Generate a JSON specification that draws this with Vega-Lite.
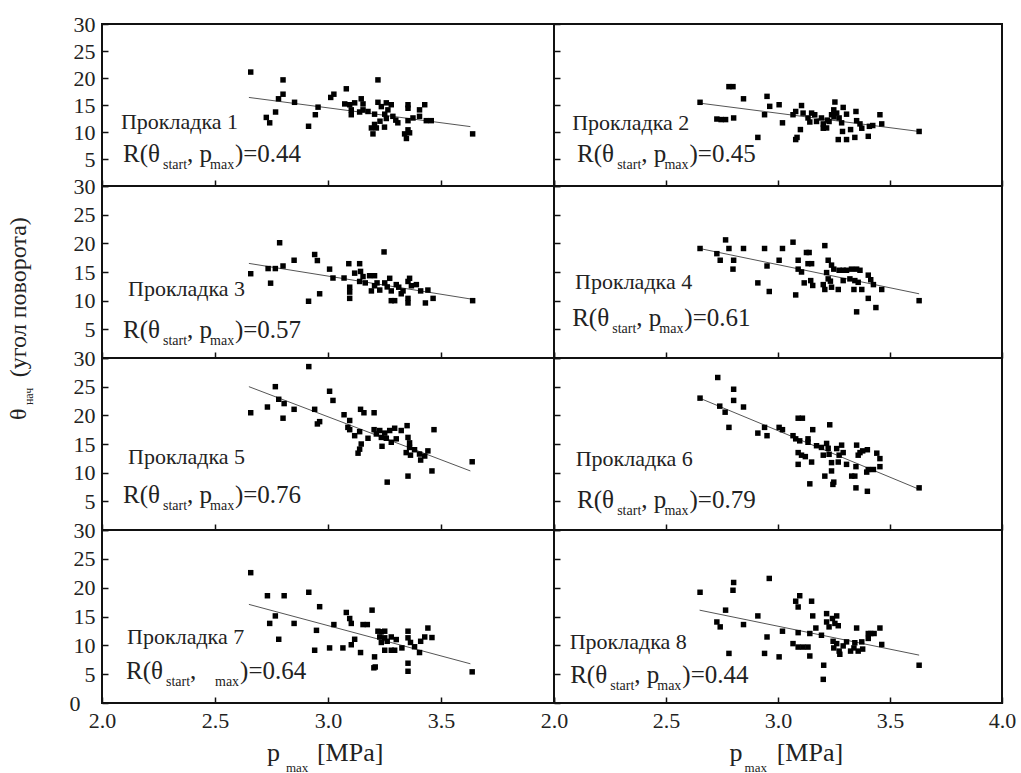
{
"$schema": "https://vega.github.io/schema/vega-lite/v6.json",
"padding": {"left": 6, "top": 12, "right": 5, "bottom": 0},
"background": "white",
"config": {
  "font": "Liberation Serif",
  "view": {"stroke": "#111", "strokeWidth": 2},
  "axis": {"domain": false, "grid": false, "ticks": true, "tickSize": -6, "tickColor": "#111", "tickWidth": 1.5, "labelFont": "Liberation Serif", "labelFontSize": 22, "labelColor": "#222", "labelFlush": false, "labelOverlap": false, "labelPadding": 13}
},
"datasets": {
  "lines": [
    {"panel":1,"x":2.65,"y":16.4},{"panel":1,"x":3.63,"y":11.0},
    {"panel":2,"x":2.65,"y":15.35},{"panel":2,"x":3.63,"y":10.1},
    {"panel":3,"x":2.65,"y":16.5},{"panel":3,"x":3.63,"y":10.3},
    {"panel":4,"x":2.65,"y":19.1},{"panel":4,"x":3.63,"y":11.2},
    {"panel":5,"x":2.65,"y":25.0},{"panel":5,"x":3.63,"y":10.3},
    {"panel":6,"x":2.65,"y":23.0},{"panel":6,"x":3.63,"y":7.1},
    {"panel":7,"x":2.65,"y":17.1},{"panel":7,"x":3.63,"y":6.8},
    {"panel":8,"x":2.65,"y":16.1},{"panel":8,"x":3.63,"y":8.3}
  ],
  "points": [
    {"panel":1,"x":2.658,"y":21.1},{"panel":1,"x":2.801,"y":19.65},{"panel":1,"x":2.801,"y":17.0},{"panel":1,"x":2.781,"y":16.15},{"panel":1,"x":2.852,"y":15.5},{"panel":1,"x":2.768,"y":13.7},{"panel":1,"x":2.727,"y":12.7},{"panel":1,"x":2.742,"y":11.7},{"panel":1,"x":2.914,"y":11.06},{"panel":1,"x":2.944,"y":13.2},{"panel":1,"x":2.956,"y":14.6},{"panel":1,"x":3.012,"y":16.4},{"panel":1,"x":3.026,"y":17.0},{"panel":1,"x":3.081,"y":18.0},{"panel":1,"x":3.221,"y":19.65},{"panel":1,"x":3.074,"y":15.2},{"panel":1,"x":3.096,"y":15.05},{"panel":1,"x":3.118,"y":15.4},{"panel":1,"x":3.147,"y":16.15},{"panel":1,"x":3.155,"y":15.2},{"panel":1,"x":3.103,"y":14.1},{"panel":1,"x":3.103,"y":13.2},{"panel":1,"x":3.14,"y":13.7},{"panel":1,"x":3.155,"y":14.1},{"panel":1,"x":3.177,"y":13.8},{"panel":1,"x":3.206,"y":13.3},{"panel":1,"x":3.221,"y":15.5},{"panel":1,"x":3.236,"y":14.7},{"panel":1,"x":3.258,"y":15.4},{"panel":1,"x":3.28,"y":15.05},{"panel":1,"x":3.265,"y":14.1},{"panel":1,"x":3.251,"y":13.3},{"panel":1,"x":3.287,"y":12.9},{"panel":1,"x":3.309,"y":11.7},{"panel":1,"x":3.206,"y":11.4},{"panel":1,"x":3.192,"y":10.75},{"panel":1,"x":3.214,"y":10.75},{"panel":1,"x":3.199,"y":9.65},{"panel":1,"x":3.258,"y":12.5},{"panel":1,"x":3.354,"y":15.05},{"panel":1,"x":3.354,"y":14.4},{"panel":1,"x":3.354,"y":12.1},{"panel":1,"x":3.376,"y":12.6},{"panel":1,"x":3.354,"y":10.4},{"panel":1,"x":3.339,"y":9.65},{"panel":1,"x":3.347,"y":8.8},{"panel":1,"x":3.361,"y":9.85},{"panel":1,"x":3.405,"y":12.9},{"panel":1,"x":3.405,"y":14.1},{"panel":1,"x":3.428,"y":15.05},{"panel":1,"x":3.435,"y":12.1},{"panel":1,"x":3.457,"y":12.1},{"panel":1,"x":3.64,"y":9.65},{"panel":1,"x":3.25,"y":10.9},{"panel":1,"x":3.23,"y":12.0},{"panel":1,"x":3.3,"y":12.2},

    {"panel":2,"x":2.652,"y":15.5},{"panel":2,"x":2.781,"y":18.4},{"panel":2,"x":2.799,"y":18.4},{"panel":2,"x":2.846,"y":16.15},{"panel":2,"x":2.951,"y":16.6},{"panel":2,"x":2.963,"y":14.75},{"panel":2,"x":3.005,"y":15.05},{"panel":2,"x":2.94,"y":13.2},{"panel":2,"x":3.02,"y":11.7},{"panel":2,"x":2.91,"y":9.0},{"panel":2,"x":2.727,"y":12.4},{"panel":2,"x":2.746,"y":12.3},{"panel":2,"x":2.766,"y":12.3},{"panel":2,"x":2.802,"y":12.6},{"panel":2,"x":3.067,"y":13.2},{"panel":2,"x":3.079,"y":13.8},{"panel":2,"x":3.1,"y":10.45},{"panel":2,"x":3.079,"y":8.6},{"panel":2,"x":3.085,"y":9.0},{"panel":2,"x":3.105,"y":14.9},{"panel":2,"x":3.112,"y":13.5},{"panel":2,"x":3.134,"y":12.6},{"panel":2,"x":3.15,"y":13.5},{"panel":2,"x":3.164,"y":13.2},{"panel":2,"x":3.142,"y":11.85},{"panel":2,"x":3.172,"y":11.95},{"panel":2,"x":3.194,"y":12.6},{"panel":2,"x":3.202,"y":11.5},{"panel":2,"x":3.217,"y":10.75},{"panel":2,"x":3.202,"y":10.7},{"panel":2,"x":3.228,"y":11.95},{"panel":2,"x":3.239,"y":13.2},{"panel":2,"x":3.249,"y":14.1},{"panel":2,"x":3.254,"y":15.55},{"panel":2,"x":3.262,"y":13.5},{"panel":2,"x":3.273,"y":12.6},{"panel":2,"x":3.291,"y":14.55},{"panel":2,"x":3.284,"y":11.7},{"panel":2,"x":3.269,"y":8.6},{"panel":2,"x":3.288,"y":10.1},{"panel":2,"x":3.306,"y":8.6},{"panel":2,"x":3.306,"y":13.3},{"panel":2,"x":3.324,"y":10.45},{"panel":2,"x":3.343,"y":9.0},{"panel":2,"x":3.348,"y":13.8},{"panel":2,"x":3.351,"y":12.1},{"panel":2,"x":3.366,"y":11.5},{"panel":2,"x":3.374,"y":10.7},{"panel":2,"x":3.403,"y":9.2},{"panel":2,"x":3.408,"y":11.05},{"panel":2,"x":3.423,"y":11.2},{"panel":2,"x":3.455,"y":13.2},{"panel":2,"x":3.463,"y":11.5},{"panel":2,"x":3.63,"y":10.1},{"panel":2,"x":3.22,"y":12.2},{"panel":2,"x":3.25,"y":12.8},

    {"panel":3,"x":2.658,"y":14.7},{"panel":3,"x":2.786,"y":20.1},{"panel":3,"x":2.735,"y":15.6},{"panel":3,"x":2.767,"y":15.6},{"panel":3,"x":2.746,"y":13.05},{"panel":3,"x":2.801,"y":16.05},{"panel":3,"x":2.85,"y":17.05},{"panel":3,"x":2.941,"y":18.05},{"panel":3,"x":2.953,"y":17.0},{"panel":3,"x":3.007,"y":15.5},{"panel":3,"x":3.022,"y":13.95},{"panel":3,"x":2.914,"y":9.9},{"panel":3,"x":2.963,"y":11.2},{"panel":3,"x":3.071,"y":13.95},{"panel":3,"x":3.092,"y":16.45},{"panel":3,"x":3.096,"y":12.35},{"panel":3,"x":3.096,"y":11.5},{"panel":3,"x":3.096,"y":10.4},{"panel":3,"x":3.118,"y":14.8},{"panel":3,"x":3.14,"y":16.45},{"panel":3,"x":3.144,"y":15.1},{"panel":3,"x":3.14,"y":13.35},{"panel":3,"x":3.155,"y":14.2},{"panel":3,"x":3.165,"y":13.1},{"panel":3,"x":3.184,"y":14.35},{"panel":3,"x":3.206,"y":14.35},{"panel":3,"x":3.192,"y":11.7},{"panel":3,"x":3.206,"y":12.6},{"panel":3,"x":3.217,"y":13.1},{"panel":3,"x":3.229,"y":11.85},{"panel":3,"x":3.248,"y":18.5},{"panel":3,"x":3.251,"y":13.1},{"panel":3,"x":3.262,"y":12.4},{"panel":3,"x":3.273,"y":13.9},{"panel":3,"x":3.28,"y":11.7},{"panel":3,"x":3.302,"y":12.8},{"panel":3,"x":3.313,"y":12.35},{"panel":3,"x":3.324,"y":11.2},{"panel":3,"x":3.28,"y":10.0},{"panel":3,"x":3.295,"y":10.0},{"panel":3,"x":3.332,"y":11.7},{"panel":3,"x":3.354,"y":13.35},{"panel":3,"x":3.361,"y":13.9},{"panel":3,"x":3.369,"y":12.6},{"panel":3,"x":3.354,"y":10.4},{"panel":3,"x":3.354,"y":9.6},{"panel":3,"x":3.391,"y":12.8},{"panel":3,"x":3.41,"y":11.7},{"panel":3,"x":3.431,"y":9.6},{"panel":3,"x":3.442,"y":11.85},{"panel":3,"x":3.465,"y":10.4},{"panel":3,"x":3.64,"y":10.0},

    {"panel":4,"x":2.652,"y":19.1},{"panel":4,"x":2.766,"y":20.6},{"panel":4,"x":2.781,"y":19.1},{"panel":4,"x":2.846,"y":19.1},{"panel":4,"x":2.727,"y":18.2},{"panel":4,"x":2.742,"y":17.05},{"panel":4,"x":2.802,"y":17.05},{"panel":4,"x":2.799,"y":15.5},{"panel":4,"x":2.94,"y":19.1},{"panel":4,"x":2.951,"y":16.05},{"panel":4,"x":2.91,"y":13.1},{"panel":4,"x":2.961,"y":11.6},{"panel":4,"x":3.005,"y":17.05},{"panel":4,"x":3.02,"y":19.1},{"panel":4,"x":3.067,"y":20.2},{"panel":4,"x":3.079,"y":11.0},{"panel":4,"x":3.09,"y":17.05},{"panel":4,"x":3.09,"y":15.5},{"panel":4,"x":3.105,"y":15.0},{"panel":4,"x":3.127,"y":18.4},{"panel":4,"x":3.139,"y":18.4},{"panel":4,"x":3.134,"y":16.45},{"panel":4,"x":3.15,"y":16.45},{"panel":4,"x":3.117,"y":13.1},{"panel":4,"x":3.155,"y":12.65},{"panel":4,"x":3.146,"y":13.5},{"panel":4,"x":3.209,"y":19.6},{"panel":4,"x":3.224,"y":17.05},{"panel":4,"x":3.239,"y":16.2},{"panel":4,"x":3.249,"y":15.5},{"panel":4,"x":3.217,"y":14.9},{"panel":4,"x":3.224,"y":13.8},{"panel":4,"x":3.234,"y":13.4},{"panel":4,"x":3.202,"y":12.8},{"panel":4,"x":3.209,"y":11.95},{"panel":4,"x":3.239,"y":12.35},{"panel":4,"x":3.269,"y":11.95},{"panel":4,"x":3.273,"y":15.3},{"panel":4,"x":3.291,"y":15.3},{"panel":4,"x":3.306,"y":15.3},{"panel":4,"x":3.328,"y":15.5},{"panel":4,"x":3.351,"y":15.5},{"panel":4,"x":3.366,"y":15.3},{"panel":4,"x":3.291,"y":13.5},{"panel":4,"x":3.321,"y":13.8},{"panel":4,"x":3.343,"y":13.5},{"panel":4,"x":3.358,"y":13.2},{"panel":4,"x":3.339,"y":11.95},{"panel":4,"x":3.374,"y":11.95},{"panel":4,"x":3.403,"y":14.45},{"panel":4,"x":3.414,"y":13.65},{"panel":4,"x":3.426,"y":12.8},{"panel":4,"x":3.463,"y":11.95},{"panel":4,"x":3.403,"y":10.4},{"panel":4,"x":3.437,"y":8.8},{"panel":4,"x":3.351,"y":8.05},{"panel":4,"x":3.63,"y":10.0},

    {"panel":5,"x":2.915,"y":28.5},{"panel":5,"x":2.658,"y":20.45},{"panel":5,"x":2.732,"y":21.45},{"panel":5,"x":2.767,"y":25.0},{"panel":5,"x":2.782,"y":22.8},{"panel":5,"x":2.806,"y":22.05},{"panel":5,"x":2.801,"y":19.5},{"panel":5,"x":2.85,"y":21.05},{"panel":5,"x":2.941,"y":21.05},{"panel":5,"x":2.953,"y":18.5},{"panel":5,"x":2.963,"y":18.9},{"panel":5,"x":3.007,"y":24.2},{"panel":5,"x":3.022,"y":22.6},{"panel":5,"x":3.071,"y":20.1},{"panel":5,"x":3.096,"y":19.1},{"panel":5,"x":3.088,"y":17.9},{"panel":5,"x":3.096,"y":17.5},{"panel":5,"x":3.118,"y":16.45},{"panel":5,"x":3.144,"y":21.05},{"panel":5,"x":3.159,"y":20.45},{"panel":5,"x":3.204,"y":20.45},{"panel":5,"x":3.14,"y":17.15},{"panel":5,"x":3.147,"y":15.0},{"panel":5,"x":3.133,"y":13.4},{"panel":5,"x":3.14,"y":14.1},{"panel":5,"x":3.177,"y":16.0},{"panel":5,"x":3.204,"y":17.5},{"panel":5,"x":3.214,"y":16.75},{"panel":5,"x":3.229,"y":17.35},{"panel":5,"x":3.236,"y":16.15},{"panel":5,"x":3.239,"y":14.6},{"panel":5,"x":3.251,"y":16.9},{"panel":5,"x":3.258,"y":16.0},{"panel":5,"x":3.273,"y":17.35},{"panel":5,"x":3.28,"y":15.3},{"panel":5,"x":3.295,"y":17.75},{"panel":5,"x":3.302,"y":15.9},{"panel":5,"x":3.324,"y":17.35},{"panel":5,"x":3.35,"y":18.2},{"panel":5,"x":3.354,"y":16.15},{"panel":5,"x":3.361,"y":15.2},{"panel":5,"x":3.361,"y":14.4},{"panel":5,"x":3.346,"y":13.5},{"panel":5,"x":3.365,"y":13.05},{"panel":5,"x":3.383,"y":14.0},{"panel":5,"x":3.405,"y":13.25},{"panel":5,"x":3.41,"y":12.2},{"panel":5,"x":3.428,"y":12.9},{"panel":5,"x":3.442,"y":13.8},{"panel":5,"x":3.469,"y":17.5},{"panel":5,"x":3.46,"y":10.3},{"panel":5,"x":3.354,"y":9.4},{"panel":5,"x":3.262,"y":8.35},{"panel":5,"x":3.638,"y":11.9},

    {"panel":6,"x":2.731,"y":26.6},{"panel":6,"x":2.652,"y":23.0},{"panel":6,"x":2.74,"y":21.6},{"panel":6,"x":2.764,"y":20.55},{"panel":6,"x":2.781,"y":17.9},{"panel":6,"x":2.802,"y":24.55},{"panel":6,"x":2.802,"y":22.6},{"panel":6,"x":2.846,"y":21.45},{"panel":6,"x":2.91,"y":16.9},{"panel":6,"x":2.94,"y":17.9},{"panel":6,"x":2.951,"y":16.45},{"panel":6,"x":3.005,"y":17.9},{"panel":6,"x":3.02,"y":17.5},{"panel":6,"x":3.067,"y":16.45},{"panel":6,"x":3.09,"y":19.5},{"panel":6,"x":3.109,"y":19.5},{"panel":6,"x":3.079,"y":15.9},{"panel":6,"x":3.097,"y":15.55},{"panel":6,"x":3.134,"y":15.9},{"panel":6,"x":3.134,"y":15.3},{"panel":6,"x":3.155,"y":17.5},{"panel":6,"x":3.09,"y":13.5},{"panel":6,"x":3.105,"y":13.05},{"panel":6,"x":3.09,"y":11.45},{"panel":6,"x":3.122,"y":12.8},{"panel":6,"x":3.15,"y":11.85},{"panel":6,"x":3.142,"y":8.05},{"panel":6,"x":3.172,"y":14.7},{"panel":6,"x":3.194,"y":14.4},{"panel":6,"x":3.202,"y":13.05},{"panel":6,"x":3.217,"y":15.1},{"panel":6,"x":3.231,"y":18.35},{"panel":6,"x":3.224,"y":14.25},{"panel":6,"x":3.228,"y":13.2},{"panel":6,"x":3.239,"y":11.75},{"panel":6,"x":3.209,"y":9.4},{"panel":6,"x":3.239,"y":10.3},{"panel":6,"x":3.245,"y":7.95},{"panel":6,"x":3.249,"y":8.35},{"panel":6,"x":3.262,"y":14.2},{"panel":6,"x":3.273,"y":13.05},{"panel":6,"x":3.284,"y":14.8},{"panel":6,"x":3.291,"y":13.5},{"panel":6,"x":3.269,"y":11.85},{"panel":6,"x":3.306,"y":11.45},{"panel":6,"x":3.329,"y":9.4},{"panel":6,"x":3.343,"y":9.4},{"panel":6,"x":3.348,"y":7.35},{"panel":6,"x":3.351,"y":14.8},{"panel":6,"x":3.358,"y":13.05},{"panel":6,"x":3.366,"y":13.5},{"panel":6,"x":3.378,"y":13.8},{"panel":6,"x":3.399,"y":14.0},{"panel":6,"x":3.348,"y":11.05},{"panel":6,"x":3.396,"y":10.1},{"panel":6,"x":3.403,"y":10.55},{"panel":6,"x":3.399,"y":6.75},{"panel":6,"x":3.441,"y":13.4},{"panel":6,"x":3.455,"y":12.45},{"panel":6,"x":3.455,"y":11.05},{"panel":6,"x":3.426,"y":10.55},{"panel":6,"x":3.63,"y":7.35},

    {"panel":7,"x":2.658,"y":22.6},{"panel":7,"x":2.732,"y":18.6},{"panel":7,"x":2.806,"y":18.6},{"panel":7,"x":2.915,"y":19.2},{"panel":7,"x":2.767,"y":15.1},{"panel":7,"x":2.742,"y":13.8},{"panel":7,"x":2.85,"y":13.8},{"panel":7,"x":2.782,"y":11.05},{"panel":7,"x":2.963,"y":16.7},{"panel":7,"x":2.949,"y":12.6},{"panel":7,"x":2.941,"y":9.15},{"panel":7,"x":3.007,"y":9.55},{"panel":7,"x":3.026,"y":13.6},{"panel":7,"x":3.081,"y":15.7},{"panel":7,"x":3.096,"y":14.65},{"panel":7,"x":3.103,"y":13.8},{"panel":7,"x":3.155,"y":13.6},{"panel":7,"x":3.174,"y":13.6},{"panel":7,"x":3.195,"y":16.1},{"panel":7,"x":3.066,"y":9.55},{"panel":7,"x":3.103,"y":10.1},{"panel":7,"x":3.118,"y":11.05},{"panel":7,"x":3.144,"y":8.75},{"panel":7,"x":3.206,"y":8.0},{"panel":7,"x":3.209,"y":6.25},{"panel":7,"x":3.203,"y":6.1},{"panel":7,"x":3.221,"y":12.45},{"panel":7,"x":3.236,"y":12.35},{"panel":7,"x":3.251,"y":12.45},{"panel":7,"x":3.229,"y":11.45},{"panel":7,"x":3.251,"y":11.3},{"panel":7,"x":3.236,"y":10.5},{"panel":7,"x":3.262,"y":10.7},{"panel":7,"x":3.28,"y":11.45},{"panel":7,"x":3.302,"y":11.0},{"panel":7,"x":3.251,"y":9.15},{"panel":7,"x":3.28,"y":9.15},{"panel":7,"x":3.295,"y":9.15},{"panel":7,"x":3.327,"y":9.55},{"panel":7,"x":3.354,"y":12.45},{"panel":7,"x":3.354,"y":11.3},{"panel":7,"x":3.365,"y":10.5},{"panel":7,"x":3.383,"y":9.75},{"panel":7,"x":3.405,"y":8.75},{"panel":7,"x":3.41,"y":10.7},{"panel":7,"x":3.428,"y":11.45},{"panel":7,"x":3.442,"y":13.0},{"panel":7,"x":3.46,"y":11.35},{"panel":7,"x":3.354,"y":6.9},{"panel":7,"x":3.354,"y":5.5},{"panel":7,"x":3.638,"y":5.4},

    {"panel":8,"x":2.652,"y":19.2},{"panel":8,"x":2.802,"y":20.9},{"panel":8,"x":2.799,"y":19.55},{"panel":8,"x":2.961,"y":21.6},{"panel":8,"x":2.766,"y":16.1},{"panel":8,"x":2.727,"y":14.05},{"panel":8,"x":2.742,"y":13.2},{"panel":8,"x":2.846,"y":13.6},{"panel":8,"x":2.91,"y":15.1},{"panel":8,"x":2.781,"y":8.6},{"panel":8,"x":2.94,"y":8.6},{"panel":8,"x":2.951,"y":11.45},{"panel":8,"x":3.005,"y":8.0},{"panel":8,"x":3.02,"y":12.45},{"panel":8,"x":3.079,"y":17.65},{"panel":8,"x":3.097,"y":18.6},{"panel":8,"x":3.09,"y":16.65},{"panel":8,"x":3.15,"y":17.65},{"panel":8,"x":3.155,"y":15.1},{"panel":8,"x":3.169,"y":13.0},{"panel":8,"x":3.09,"y":12.2},{"panel":8,"x":3.142,"y":12.05},{"panel":8,"x":3.067,"y":10.3},{"panel":8,"x":3.09,"y":9.7},{"panel":8,"x":3.112,"y":9.7},{"panel":8,"x":3.134,"y":9.7},{"panel":8,"x":3.142,"y":8.15},{"panel":8,"x":3.194,"y":11.75},{"panel":8,"x":3.204,"y":6.55},{"panel":8,"x":3.202,"y":4.1},{"panel":8,"x":3.217,"y":15.5},{"panel":8,"x":3.217,"y":14.05},{"panel":8,"x":3.228,"y":13.2},{"panel":8,"x":3.243,"y":14.65},{"panel":8,"x":3.262,"y":15.1},{"panel":8,"x":3.254,"y":13.8},{"panel":8,"x":3.269,"y":13.4},{"panel":8,"x":3.246,"y":10.7},{"panel":8,"x":3.262,"y":10.3},{"panel":8,"x":3.249,"y":9.55},{"panel":8,"x":3.273,"y":9.0},{"panel":8,"x":3.276,"y":8.45},{"panel":8,"x":3.291,"y":9.9},{"panel":8,"x":3.306,"y":10.6},{"panel":8,"x":3.324,"y":9.0},{"panel":8,"x":3.339,"y":9.55},{"panel":8,"x":3.343,"y":10.45},{"panel":8,"x":3.351,"y":13.0},{"panel":8,"x":3.358,"y":9.0},{"panel":8,"x":3.378,"y":9.35},{"panel":8,"x":3.374,"y":10.6},{"panel":8,"x":3.403,"y":12.05},{"panel":8,"x":3.403,"y":11.2},{"panel":8,"x":3.414,"y":12.05},{"panel":8,"x":3.429,"y":12.05},{"panel":8,"x":3.455,"y":13.0},{"panel":8,"x":3.463,"y":10.15},{"panel":8,"x":3.63,"y":6.55}
  ],
  "labels": [
    {"panel":1,"kind":"name","x":2.084,"y":10.6,"text":"Прокладка 1"},
    {"panel":1,"kind":"main","x":2.093,"y":4.4,"text":"R(θ"},
    {"panel":1,"kind":"sub","x":2.27,"y":3.1,"text":"start"},
    {"panel":1,"kind":"main","x":2.376,"y":4.4,"text":", p"},
    {"panel":1,"kind":"sub","x":2.478,"y":3.1,"text":"max"},
    {"panel":1,"kind":"main","x":2.588,"y":4.4,"text":")=0.44"},

    {"panel":2,"kind":"name","x":2.081,"y":10.4,"text":"Прокладка 2"},
    {"panel":2,"kind":"main","x":2.103,"y":4.4,"text":"R(θ"},
    {"panel":2,"kind":"sub","x":2.282,"y":3.1,"text":"start"},
    {"panel":2,"kind":"main","x":2.39,"y":4.4,"text":", p"},
    {"panel":2,"kind":"sub","x":2.493,"y":3.1,"text":"max"},
    {"panel":2,"kind":"main","x":2.605,"y":4.4,"text":")=0.45"},

    {"panel":3,"kind":"name","x":2.115,"y":10.9,"text":"Прокладка 3"},
    {"panel":3,"kind":"main","x":2.093,"y":3.5,"text":"R(θ"},
    {"panel":3,"kind":"sub","x":2.27,"y":2.3,"text":"start"},
    {"panel":3,"kind":"main","x":2.376,"y":3.5,"text":", p"},
    {"panel":3,"kind":"sub","x":2.478,"y":2.3,"text":"max"},
    {"panel":3,"kind":"main","x":2.588,"y":3.5,"text":")=0.57"},

    {"panel":4,"kind":"name","x":2.094,"y":12.1,"text":"Прокладка  4"},
    {"panel":4,"kind":"main","x":2.081,"y":5.6,"text":"R(θ"},
    {"panel":4,"kind":"sub","x":2.26,"y":4.4,"text":"start"},
    {"panel":4,"kind":"main","x":2.367,"y":5.6,"text":", p"},
    {"panel":4,"kind":"sub","x":2.47,"y":4.4,"text":"max"},
    {"panel":4,"kind":"main","x":2.582,"y":5.6,"text":")=0.61"},

    {"panel":5,"kind":"name","x":2.115,"y":11.5,"text":"Прокладка 5"},
    {"panel":5,"kind":"main","x":2.093,"y":4.7,"text":"R(θ"},
    {"panel":5,"kind":"sub","x":2.27,"y":3.5,"text":"start"},
    {"panel":5,"kind":"main","x":2.376,"y":4.7,"text":", p"},
    {"panel":5,"kind":"sub","x":2.478,"y":3.5,"text":"max"},
    {"panel":5,"kind":"main","x":2.588,"y":4.7,"text":")=0.76"},
    {"panel":5,"kind":"ytm","x":1.633,"y":40.6,"text":"(угол поворота)"},
    {"panel":5,"kind":"ytm","x":1.633,"y":20.2,"text":"θ"},
    {"panel":5,"kind":"yts","x":1.675,"y":23.3,"text":"нач"},

    {"panel":6,"kind":"name","x":2.097,"y":11.2,"text":"Прокладка  6"},
    {"panel":6,"kind":"main","x":2.103,"y":3.8,"text":"R(θ"},
    {"panel":6,"kind":"sub","x":2.282,"y":2.6,"text":"start"},
    {"panel":6,"kind":"main","x":2.39,"y":3.8,"text":", p"},
    {"panel":6,"kind":"sub","x":2.493,"y":2.6,"text":"max"},
    {"panel":6,"kind":"main","x":2.605,"y":3.8,"text":")=0.79"},

    {"panel":7,"kind":"name","x":2.111,"y":10.3,"text":"Прокладка 7"},
    {"panel":7,"kind":"main","x":2.106,"y":4.2,"text":"R(θ"},
    {"panel":7,"kind":"sub","x":2.283,"y":3.0,"text":"start"},
    {"panel":7,"kind":"main","x":2.389,"y":4.2,"text":","},
    {"panel":7,"kind":"sub","x":2.5,"y":3.0,"text":"max"},
    {"panel":7,"kind":"main","x":2.611,"y":4.2,"text":")=0.64"},
    {"panel":7,"kind":"xtm","x":2.73,"y":-10.1,"text":"p"},
    {"panel":7,"kind":"xts","x":2.814,"y":-11.9,"text":"max"},
    {"panel":7,"kind":"xtm","x":2.951,"y":-10.1,"text":"[MPa]"},

    {"panel":8,"kind":"name","x":2.07,"y":9.4,"text":"Прокладка 8"},
    {"panel":8,"kind":"main","x":2.072,"y":3.4,"text":"R(θ"},
    {"panel":8,"kind":"sub","x":2.251,"y":2.2,"text":"start"},
    {"panel":8,"kind":"main","x":2.358,"y":3.4,"text":", p"},
    {"panel":8,"kind":"sub","x":2.461,"y":2.2,"text":"max"},
    {"panel":8,"kind":"main","x":2.573,"y":3.4,"text":")=0.44"},
    {"panel":8,"kind":"xtm","x":2.784,"y":-10.1,"text":"p"},
    {"panel":8,"kind":"xts","x":2.851,"y":-11.9,"text":"max"},
    {"panel":8,"kind":"xtm","x":2.994,"y":-10.1,"text":"[MPa]"}
  ]
},
"columns": 2,
"spacing": 0,
"bounds": "flush",
"concat": [
  {"width": 452, "height": 162,
   "encoding": {
     "x": {"field":"x","type":"quantitative","scale":{"domain":[2,4],"nice":false,"zero":false},"axis":{"values":[2,2.5,3,3.5,4],"labels":false,"title":null}},
     "y": {"field":"y","type":"quantitative","scale":{"domain":[0,30],"nice":false},"axis":{"values":[0,5,10,15,20,25,30],"labelFont":"Liberation Serif","labelExpr":"datum.value == 0 ? '' : datum.label","title":null}}},
   "layer": [
     {"data":{"name":"lines"},"transform":[{"filter":"datum.panel == 1"}],"mark":{"type":"line","color":"#555","strokeWidth":1}},
     {"data":{"name":"points"},"transform":[{"filter":"datum.panel == 1"}],"mark":{"type":"square","filled":true,"color":"#000","size":30,"opacity":1}},
     {"data":{"name":"labels"},"transform":[{"filter":"datum.panel == 1 && datum.kind == 'name'"}],"mark":{"type":"text","align":"left","baseline":"alphabetic","fontSize":22,"font":"Liberation Serif","color":"#222"},"encoding":{"text":{"field":"text"}}},
     {"data":{"name":"labels"},"transform":[{"filter":"datum.panel == 1 && datum.kind == 'main'"}],"mark":{"type":"text","align":"left","baseline":"alphabetic","fontSize":25,"font":"Liberation Serif","color":"#222"},"encoding":{"text":{"field":"text"}}},
     {"data":{"name":"labels"},"transform":[{"filter":"datum.panel == 1 && datum.kind == 'sub'"}],"mark":{"type":"text","align":"left","baseline":"alphabetic","fontSize":14,"font":"Liberation Serif","color":"#222"},"encoding":{"text":{"field":"text"}}}
   ]},
  {"width": 448, "height": 162,
   "encoding": {
     "x": {"field":"x","type":"quantitative","scale":{"domain":[2,4],"nice":false,"zero":false},"axis":{"values":[2,2.5,3,3.5,4],"labels":false,"title":null}},
     "y": {"field":"y","type":"quantitative","scale":{"domain":[0,30],"nice":false},"axis":{"values":[0,5,10,15,20,25,30],"labels":false,"title":null}}},
   "layer": [
     {"data":{"name":"lines"},"transform":[{"filter":"datum.panel == 2"}],"mark":{"type":"line","color":"#555","strokeWidth":1}},
     {"data":{"name":"points"},"transform":[{"filter":"datum.panel == 2"}],"mark":{"type":"square","filled":true,"color":"#000","size":30,"opacity":1}},
     {"data":{"name":"labels"},"transform":[{"filter":"datum.panel == 2 && datum.kind == 'name'"}],"mark":{"type":"text","align":"left","baseline":"alphabetic","fontSize":22,"font":"Liberation Serif","color":"#222"},"encoding":{"text":{"field":"text"}}},
     {"data":{"name":"labels"},"transform":[{"filter":"datum.panel == 2 && datum.kind == 'main'"}],"mark":{"type":"text","align":"left","baseline":"alphabetic","fontSize":25,"font":"Liberation Serif","color":"#222"},"encoding":{"text":{"field":"text"}}},
     {"data":{"name":"labels"},"transform":[{"filter":"datum.panel == 2 && datum.kind == 'sub'"}],"mark":{"type":"text","align":"left","baseline":"alphabetic","fontSize":14,"font":"Liberation Serif","color":"#222"},"encoding":{"text":{"field":"text"}}}
   ]},
  {"width": 452, "height": 172,
   "encoding": {
     "x": {"field":"x","type":"quantitative","scale":{"domain":[2,4],"nice":false,"zero":false},"axis":{"values":[2,2.5,3,3.5,4],"labels":false,"title":null}},
     "y": {"field":"y","type":"quantitative","scale":{"domain":[0,30],"nice":false},"axis":{"values":[0,5,10,15,20,25,30],"labelFont":"Liberation Serif","labelExpr":"datum.value == 0 ? '' : datum.label","title":null}}},
   "layer": [
     {"data":{"name":"lines"},"transform":[{"filter":"datum.panel == 3"}],"mark":{"type":"line","color":"#555","strokeWidth":1}},
     {"data":{"name":"points"},"transform":[{"filter":"datum.panel == 3"}],"mark":{"type":"square","filled":true,"color":"#000","size":30,"opacity":1}},
     {"data":{"name":"labels"},"transform":[{"filter":"datum.panel == 3 && datum.kind == 'name'"}],"mark":{"type":"text","align":"left","baseline":"alphabetic","fontSize":22,"font":"Liberation Serif","color":"#222"},"encoding":{"text":{"field":"text"}}},
     {"data":{"name":"labels"},"transform":[{"filter":"datum.panel == 3 && datum.kind == 'main'"}],"mark":{"type":"text","align":"left","baseline":"alphabetic","fontSize":25,"font":"Liberation Serif","color":"#222"},"encoding":{"text":{"field":"text"}}},
     {"data":{"name":"labels"},"transform":[{"filter":"datum.panel == 3 && datum.kind == 'sub'"}],"mark":{"type":"text","align":"left","baseline":"alphabetic","fontSize":14,"font":"Liberation Serif","color":"#222"},"encoding":{"text":{"field":"text"}}}
   ]},
  {"width": 448, "height": 172,
   "encoding": {
     "x": {"field":"x","type":"quantitative","scale":{"domain":[2,4],"nice":false,"zero":false},"axis":{"values":[2,2.5,3,3.5,4],"labels":false,"title":null}},
     "y": {"field":"y","type":"quantitative","scale":{"domain":[0,30],"nice":false},"axis":{"values":[0,5,10,15,20,25,30],"labels":false,"title":null}}},
   "layer": [
     {"data":{"name":"lines"},"transform":[{"filter":"datum.panel == 4"}],"mark":{"type":"line","color":"#555","strokeWidth":1}},
     {"data":{"name":"points"},"transform":[{"filter":"datum.panel == 4"}],"mark":{"type":"square","filled":true,"color":"#000","size":30,"opacity":1}},
     {"data":{"name":"labels"},"transform":[{"filter":"datum.panel == 4 && datum.kind == 'name'"}],"mark":{"type":"text","align":"left","baseline":"alphabetic","fontSize":22,"font":"Liberation Serif","color":"#222"},"encoding":{"text":{"field":"text"}}},
     {"data":{"name":"labels"},"transform":[{"filter":"datum.panel == 4 && datum.kind == 'main'"}],"mark":{"type":"text","align":"left","baseline":"alphabetic","fontSize":25,"font":"Liberation Serif","color":"#222"},"encoding":{"text":{"field":"text"}}},
     {"data":{"name":"labels"},"transform":[{"filter":"datum.panel == 4 && datum.kind == 'sub'"}],"mark":{"type":"text","align":"left","baseline":"alphabetic","fontSize":14,"font":"Liberation Serif","color":"#222"},"encoding":{"text":{"field":"text"}}}
   ]},
  {"width": 452, "height": 172,
   "encoding": {
     "x": {"field":"x","type":"quantitative","scale":{"domain":[2,4],"nice":false,"zero":false},"axis":{"values":[2,2.5,3,3.5,4],"labels":false,"title":null}},
     "y": {"field":"y","type":"quantitative","scale":{"domain":[0,30],"nice":false},"axis":{"values":[0,5,10,15,20,25,30],"labelFont":"Liberation Serif","labelExpr":"datum.value == 0 ? '' : datum.label","title":null}}},
   "layer": [
     {"data":{"name":"lines"},"transform":[{"filter":"datum.panel == 5"}],"mark":{"type":"line","color":"#555","strokeWidth":1}},
     {"data":{"name":"points"},"transform":[{"filter":"datum.panel == 5"}],"mark":{"type":"square","filled":true,"color":"#000","size":30,"opacity":1}},
     {"data":{"name":"labels"},"transform":[{"filter":"datum.panel == 5 && datum.kind == 'name'"}],"mark":{"type":"text","align":"left","baseline":"alphabetic","fontSize":22,"font":"Liberation Serif","color":"#222"},"encoding":{"text":{"field":"text"}}},
     {"data":{"name":"labels"},"transform":[{"filter":"datum.panel == 5 && datum.kind == 'main'"}],"mark":{"type":"text","align":"left","baseline":"alphabetic","fontSize":25,"font":"Liberation Serif","color":"#222"},"encoding":{"text":{"field":"text"}}},
     {"data":{"name":"labels"},"transform":[{"filter":"datum.panel == 5 && datum.kind == 'sub'"}],"mark":{"type":"text","align":"left","baseline":"alphabetic","fontSize":14,"font":"Liberation Serif","color":"#222"},"encoding":{"text":{"field":"text"}}},
     {"data":{"name":"labels"},"transform":[{"filter":"datum.panel == 5 && datum.kind == 'ytm'"}],"mark":{"type":"text","align":"center","baseline":"middle","angle":270,"fontSize":24,"font":"Liberation Serif","color":"#222"},"encoding":{"text":{"field":"text"}}},
     {"data":{"name":"labels"},"transform":[{"filter":"datum.panel == 5 && datum.kind == 'yts'"}],"mark":{"type":"text","align":"center","baseline":"middle","angle":270,"fontSize":12,"font":"Liberation Serif","color":"#222"},"encoding":{"text":{"field":"text"}}}
   ]},
  {"width": 448, "height": 172,
   "encoding": {
     "x": {"field":"x","type":"quantitative","scale":{"domain":[2,4],"nice":false,"zero":false},"axis":{"values":[2,2.5,3,3.5,4],"labels":false,"title":null}},
     "y": {"field":"y","type":"quantitative","scale":{"domain":[0,30],"nice":false},"axis":{"values":[0,5,10,15,20,25,30],"labels":false,"title":null}}},
   "layer": [
     {"data":{"name":"lines"},"transform":[{"filter":"datum.panel == 6"}],"mark":{"type":"line","color":"#555","strokeWidth":1}},
     {"data":{"name":"points"},"transform":[{"filter":"datum.panel == 6"}],"mark":{"type":"square","filled":true,"color":"#000","size":30,"opacity":1}},
     {"data":{"name":"labels"},"transform":[{"filter":"datum.panel == 6 && datum.kind == 'name'"}],"mark":{"type":"text","align":"left","baseline":"alphabetic","fontSize":22,"font":"Liberation Serif","color":"#222"},"encoding":{"text":{"field":"text"}}},
     {"data":{"name":"labels"},"transform":[{"filter":"datum.panel == 6 && datum.kind == 'main'"}],"mark":{"type":"text","align":"left","baseline":"alphabetic","fontSize":25,"font":"Liberation Serif","color":"#222"},"encoding":{"text":{"field":"text"}}},
     {"data":{"name":"labels"},"transform":[{"filter":"datum.panel == 6 && datum.kind == 'sub'"}],"mark":{"type":"text","align":"left","baseline":"alphabetic","fontSize":14,"font":"Liberation Serif","color":"#222"},"encoding":{"text":{"field":"text"}}}
   ]},
  {"width": 452, "height": 173,
   "encoding": {
     "x": {"field":"x","type":"quantitative","scale":{"domain":[2,4],"nice":false,"zero":false},"axis":{"values":[2,2.5,3,3.5,4],"format":".1f","labelFont":"Liberation Serif","labelExpr":"datum.value == 4 ? '' : datum.label","title":null}},
     "y": {"field":"y","type":"quantitative","scale":{"domain":[0,30],"nice":false},"axis":{"values":[0,5,10,15,20,25,30],"labelFont":"Liberation Serif","labelPadding":{"condition":{"test":"datum.value == 0","value":28},"value":13},"title":null}}},
   "layer": [
     {"data":{"name":"lines"},"transform":[{"filter":"datum.panel == 7"}],"mark":{"type":"line","color":"#555","strokeWidth":1}},
     {"data":{"name":"points"},"transform":[{"filter":"datum.panel == 7"}],"mark":{"type":"square","filled":true,"color":"#000","size":30,"opacity":1}},
     {"data":{"name":"labels"},"transform":[{"filter":"datum.panel == 7 && datum.kind == 'name'"}],"mark":{"type":"text","align":"left","baseline":"alphabetic","fontSize":22,"font":"Liberation Serif","color":"#222"},"encoding":{"text":{"field":"text"}}},
     {"data":{"name":"labels"},"transform":[{"filter":"datum.panel == 7 && datum.kind == 'main'"}],"mark":{"type":"text","align":"left","baseline":"alphabetic","fontSize":25,"font":"Liberation Serif","color":"#222"},"encoding":{"text":{"field":"text"}}},
     {"data":{"name":"labels"},"transform":[{"filter":"datum.panel == 7 && datum.kind == 'sub'"}],"mark":{"type":"text","align":"left","baseline":"alphabetic","fontSize":14,"font":"Liberation Serif","color":"#222"},"encoding":{"text":{"field":"text"}}},
     {"data":{"name":"labels"},"transform":[{"filter":"datum.panel == 7 && datum.kind == 'xtm'"}],"mark":{"type":"text","align":"left","baseline":"alphabetic","fontSize":26,"font":"Liberation Serif","color":"#222"},"encoding":{"text":{"field":"text"}}},
     {"data":{"name":"labels"},"transform":[{"filter":"datum.panel == 7 && datum.kind == 'xts'"}],"mark":{"type":"text","align":"left","baseline":"alphabetic","fontSize":13,"font":"Liberation Serif","color":"#222"},"encoding":{"text":{"field":"text"}}}
   ]},
  {"width": 448, "height": 173,
   "encoding": {
     "x": {"field":"x","type":"quantitative","scale":{"domain":[2,4],"nice":false,"zero":false},"axis":{"values":[2,2.5,3,3.5,4],"format":".1f","labelFont":"Liberation Serif","title":null}},
     "y": {"field":"y","type":"quantitative","scale":{"domain":[0,30],"nice":false},"axis":{"values":[0,5,10,15,20,25,30],"labels":false,"title":null}}},
   "layer": [
     {"data":{"name":"lines"},"transform":[{"filter":"datum.panel == 8"}],"mark":{"type":"line","color":"#555","strokeWidth":1}},
     {"data":{"name":"points"},"transform":[{"filter":"datum.panel == 8"}],"mark":{"type":"square","filled":true,"color":"#000","size":30,"opacity":1}},
     {"data":{"name":"labels"},"transform":[{"filter":"datum.panel == 8 && datum.kind == 'name'"}],"mark":{"type":"text","align":"left","baseline":"alphabetic","fontSize":22,"font":"Liberation Serif","color":"#222"},"encoding":{"text":{"field":"text"}}},
     {"data":{"name":"labels"},"transform":[{"filter":"datum.panel == 8 && datum.kind == 'main'"}],"mark":{"type":"text","align":"left","baseline":"alphabetic","fontSize":25,"font":"Liberation Serif","color":"#222"},"encoding":{"text":{"field":"text"}}},
     {"data":{"name":"labels"},"transform":[{"filter":"datum.panel == 8 && datum.kind == 'sub'"}],"mark":{"type":"text","align":"left","baseline":"alphabetic","fontSize":14,"font":"Liberation Serif","color":"#222"},"encoding":{"text":{"field":"text"}}},
     {"data":{"name":"labels"},"transform":[{"filter":"datum.panel == 8 && datum.kind == 'xtm'"}],"mark":{"type":"text","align":"left","baseline":"alphabetic","fontSize":26,"font":"Liberation Serif","color":"#222"},"encoding":{"text":{"field":"text"}}},
     {"data":{"name":"labels"},"transform":[{"filter":"datum.panel == 8 && datum.kind == 'xts'"}],"mark":{"type":"text","align":"left","baseline":"alphabetic","fontSize":13,"font":"Liberation Serif","color":"#222"},"encoding":{"text":{"field":"text"}}}
   ]}
]
}
